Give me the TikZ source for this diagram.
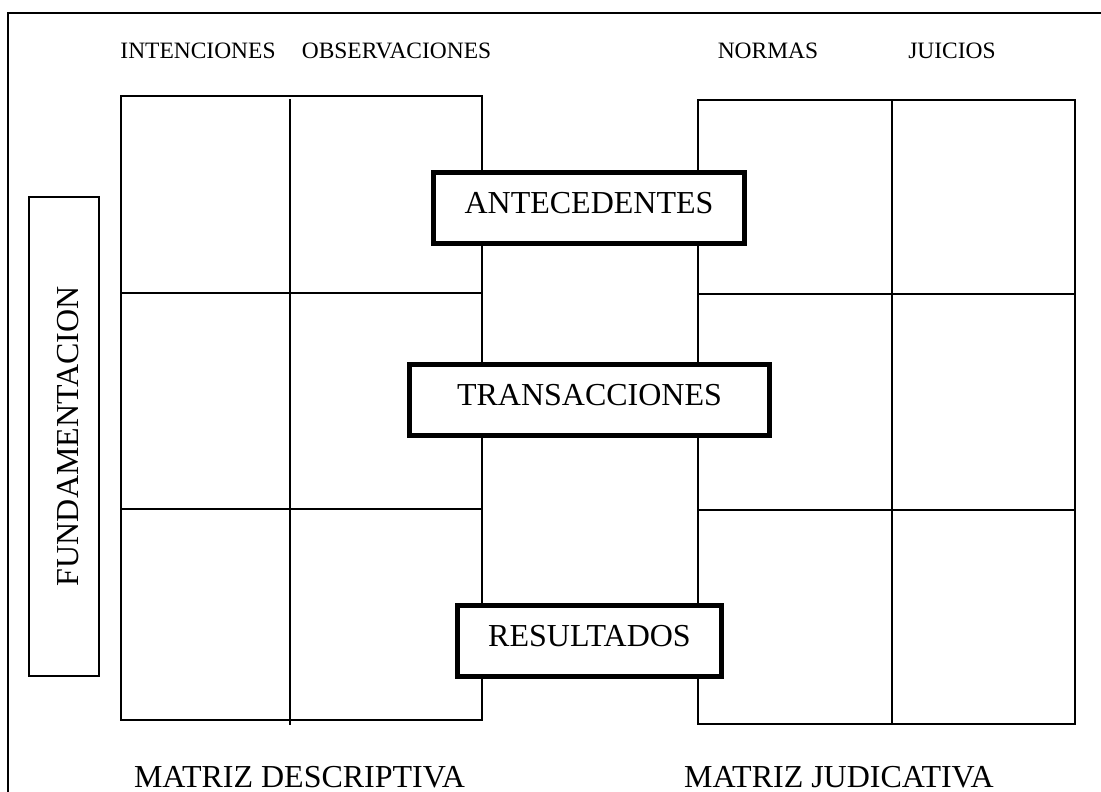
\documentclass[tikz,border=0pt]{standalone}
\usepackage{fontspec}
\setmainfont{Liberation Serif}
\begin{document}
\begin{tikzpicture}[x=0.75pt,y=-0.75pt,
  thinline/.style={line width=1.5pt},
  toplabel/.style={font=\fontsize{17.6}{20}\selectfont, anchor=base, inner sep=0pt},
  biglabel/.style={font=\fontsize{24}{28}\selectfont, anchor=base, inner sep=0pt},
  stagebox/.style={draw, line width=3.8pt, fill=white, anchor=base,
    font=\fontsize{24}{28}\selectfont, inner xsep=0pt, inner ysep=0pt,
    text height=31.1pt, text depth=22.1pt},
  sidebox/.style={draw, line width=1.5pt, rotate=90, anchor=base,
    font=\fontsize{24}{28}\selectfont, inner xsep=0pt, inner ysep=0pt,
    minimum width=359pt, text height=37.7pt, text depth=15pt}]
\useasboundingbox (0,0) rectangle (1101,792);
\fill[white] (0,0) rectangle (1101,792);
% outer frame (cropped)
\draw[thinline] (8,792) -- (8,13) -- (1101,13);
% top labels
\node[toplabel] (inten) at (198,59) {INTENCIONES};
\node[toplabel] (obs) at (396.5,59) {OBSERVACIONES};
\node[toplabel] (norm) at (768,59) {NORMAS};
\node[toplabel] (juic) at (952,59) {JUICIOS};
% left matrix (descriptiva)
\draw[thinline] (121,96) rectangle (482,720);
\draw[thinline] (290,99.5) -- (290,725);
\draw[thinline] (121,292.5) -- (482,292.5);
\draw[thinline] (121,508.5) -- (482,508.5);
% right matrix (judicativa)
\draw[thinline] (698,100) rectangle (1074.5,723.5);
\draw[thinline] (892,100) -- (892,723.5);
\draw[thinline] (698,293.5) -- (1074.5,293.5);
\draw[thinline] (698,509.5) -- (1074.5,509.5);
% side box
\node[sidebox] (fund) at (79,436.2) {FUNDAMENTACION};
% stage boxes
\node[stagebox, minimum width=233.3pt] (ante) at (589,214) {ANTECEDENTES};
\node[stagebox, minimum width=270pt] (trans) at (589.5,405.7) {TRANSACCIONES};
\node[stagebox, minimum width=198pt] (res) at (589.5,646.7) {RESULTADOS};
% bottom labels
\node[biglabel] (mdesc) at (299.5,787) {MATRIZ DESCRIPTIVA};
\node[biglabel] (mjud) at (839,787) {MATRIZ JUDICATIVA};
\end{tikzpicture}
\end{document}
